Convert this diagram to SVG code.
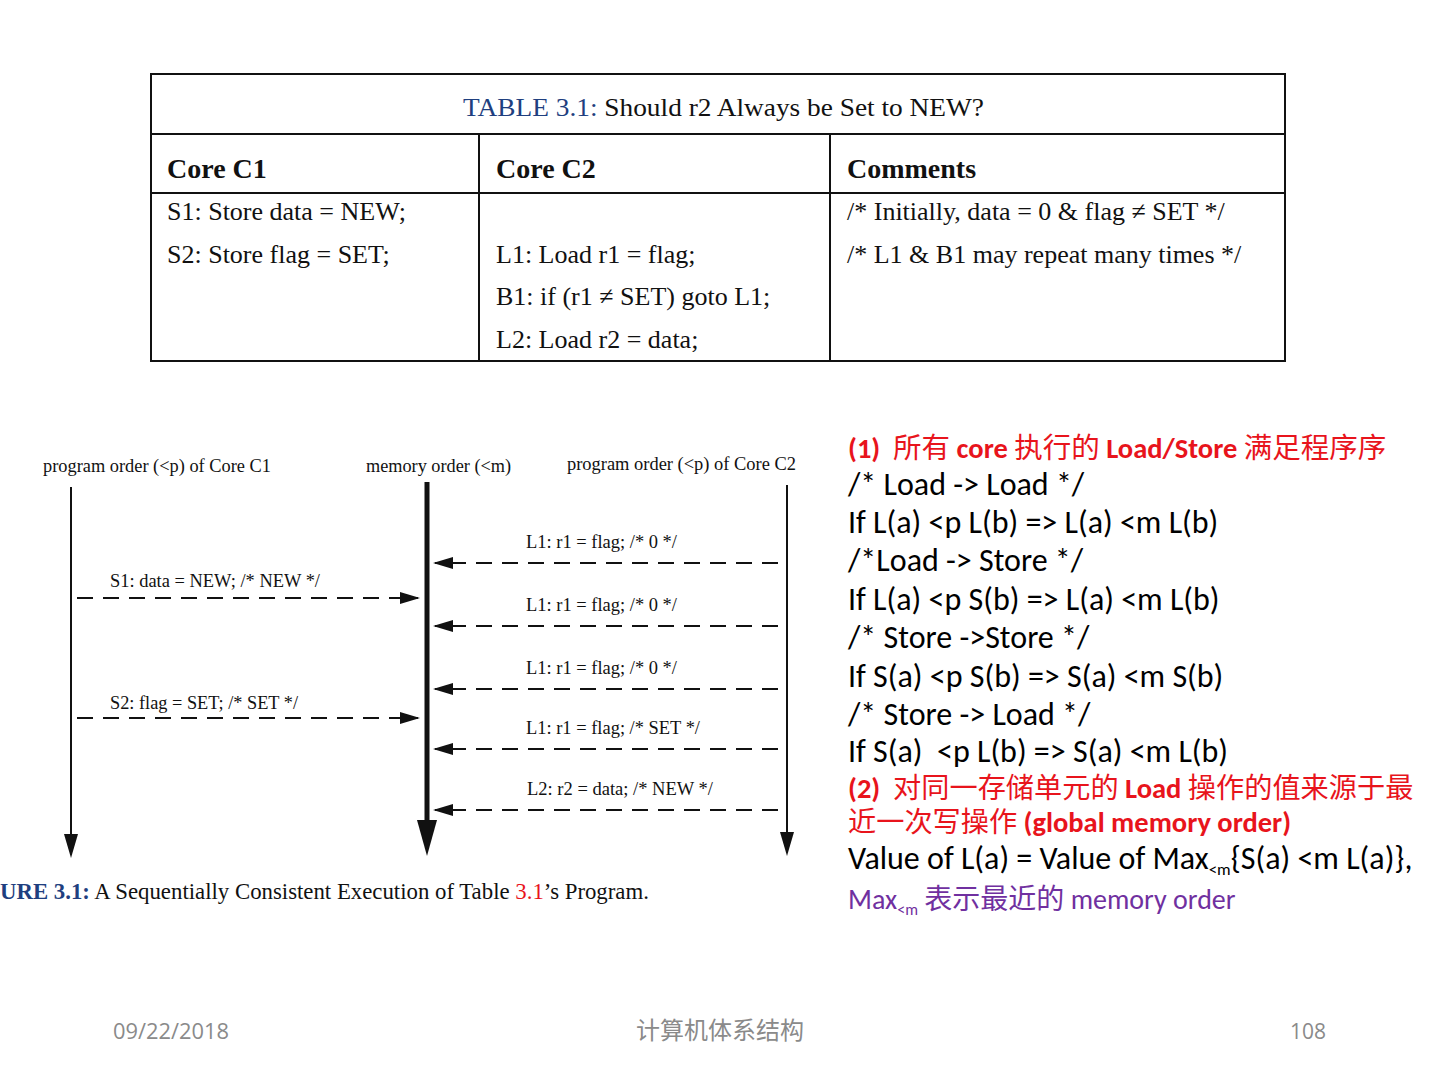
<svg xmlns="http://www.w3.org/2000/svg" width="1440" height="1080" viewBox="0 0 1440 1080">
<style>
.serif{font-family:"Liberation Serif","Times New Roman",serif;fill:#111}
.tbl{font-size:26px}
.hdr{font-size:28px;font-weight:bold}
.lbl{font-size:18px}
.sans{font-family:Carlito,"Open Sans","Noto Sans","Noto Sans CJK SC",sans-serif;font-size:32px;fill:#000}
.cjk{font-family:"Noto Sans CJK SC",sans-serif}
.red{fill:#e8141c;font-size:28.5px}
.pur{fill:#7030a0;font-size:28px}
.foot{font-family:"Open Sans","Noto Sans CJK SC",sans-serif;font-size:21px;fill:#8a8a8a}
.dash{stroke:#111;stroke-width:2;stroke-dasharray:16 10;fill:none}
</style>
<defs>
<marker id="ah" markerWidth="20" markerHeight="12" refX="18" refY="6" orient="auto" markerUnits="userSpaceOnUse">
<path d="M0,0 L20,6 L0,12 Z" fill="#111"/>
</marker>
</defs>
<rect width="1440" height="1080" fill="#fff"/>
<g id="table">
<rect x="151" y="74" width="1134" height="287" fill="none" stroke="#111" stroke-width="2"/>
<line x1="151" y1="134" x2="1285" y2="134" stroke="#111" stroke-width="2"/>
<line x1="151" y1="193" x2="1285" y2="193" stroke="#111" stroke-width="2"/>
<line x1="479" y1="134" x2="479" y2="361" stroke="#111" stroke-width="2"/>
<line x1="830" y1="134" x2="830" y2="361" stroke="#111" stroke-width="2"/>
<text x="463" y="116" class="serif" font-size="26" textLength="521" lengthAdjust="spacingAndGlyphs"><tspan fill="#1f3f7f">TABLE 3.1:</tspan> Should r2 Always be Set to NEW?</text>
<text x="167" y="178" class="serif hdr">Core C1</text>
<text x="496" y="178" class="serif hdr">Core C2</text>
<text x="847" y="178" class="serif hdr">Comments</text>
<text x="167" y="220" class="serif tbl">S1: Store data = NEW;</text>
<text x="167" y="263" class="serif tbl">S2: Store flag = SET;</text>
<text x="496" y="263" class="serif tbl">L1: Load r1 = flag;</text>
<text x="496" y="305" class="serif tbl">B1: if (r1 ≠ SET) goto L1;</text>
<text x="496" y="348" class="serif tbl">L2: Load r2 = data;</text>
<text x="847" y="220" class="serif tbl">/* Initially, data = 0 &amp; flag ≠ SET */</text>
<text x="847" y="263" class="serif tbl">/* L1 &amp; B1 may repeat many times */</text>
</g>
<g id="timelines">
<text x="43" y="472" class="serif lbl" textLength="228" lengthAdjust="spacingAndGlyphs">program order (&lt;p) of Core C1</text>
<text x="366" y="472" class="serif lbl" textLength="145" lengthAdjust="spacingAndGlyphs">memory order (&lt;m)</text>
<text x="567" y="470" class="serif lbl" textLength="229" lengthAdjust="spacingAndGlyphs">program order (&lt;p) of Core C2</text>
<line x1="71" y1="487" x2="71" y2="836" stroke="#111" stroke-width="2"/>
<path d="M64,834 L78,834 L71,858 Z" fill="#111"/>
<line x1="427" y1="482" x2="427" y2="822" stroke="#111" stroke-width="5"/>
<path d="M417,820 L437,820 L427,856 Z" fill="#111"/>
<line x1="787" y1="485" x2="787" y2="834" stroke="#111" stroke-width="2"/>
<path d="M780,832 L794,832 L787,856 Z" fill="#111"/>
</g>
<g id="connectors">
<line x1="77" y1="598" x2="418" y2="598" class="dash" marker-end="url(#ah)"/>
<line x1="77" y1="718" x2="418" y2="718" class="dash" marker-end="url(#ah)"/>
<line x1="778" y1="563" x2="435" y2="563" class="dash" marker-end="url(#ah)"/>
<line x1="778" y1="626" x2="435" y2="626" class="dash" marker-end="url(#ah)"/>
<line x1="778" y1="689" x2="435" y2="689" class="dash" marker-end="url(#ah)"/>
<line x1="778" y1="749" x2="435" y2="749" class="dash" marker-end="url(#ah)"/>
<line x1="778" y1="810" x2="435" y2="810" class="dash" marker-end="url(#ah)"/>
<text x="110" y="587" class="serif lbl" textLength="210" lengthAdjust="spacingAndGlyphs">S1: data = NEW; /* NEW */</text>
<text x="110" y="709" class="serif lbl" textLength="188" lengthAdjust="spacingAndGlyphs">S2: flag = SET; /* SET */</text>
<text x="526" y="548" class="serif lbl" textLength="151" lengthAdjust="spacingAndGlyphs">L1: r1 = flag; /* 0 */</text>
<text x="526" y="611" class="serif lbl" textLength="151" lengthAdjust="spacingAndGlyphs">L1: r1 = flag; /* 0 */</text>
<text x="526" y="674" class="serif lbl" textLength="151" lengthAdjust="spacingAndGlyphs">L1: r1 = flag; /* 0 */</text>
<text x="526" y="734" class="serif lbl" textLength="174" lengthAdjust="spacingAndGlyphs">L1: r1 = flag; /* SET */</text>
<text x="527" y="795" class="serif lbl" textLength="186" lengthAdjust="spacingAndGlyphs">L2: r2 = data; /* NEW */</text>
</g>
<text x="0" y="899" class="serif" font-size="22.8"><tspan fill="#1f3f7f" font-weight="bold">URE 3.1:</tspan> A Sequentially Consistent Execution of Table <tspan fill="#e8141c">3.1</tspan>’s Program.</text>
<g id="notes">
<text x="848" y="458" class="sans red" xml:space="preserve"><tspan font-weight="bold">(1)</tspan>  <tspan class="cjk" font-size="28.5">所有</tspan> <tspan font-weight="bold">core</tspan> <tspan class="cjk" font-size="28.5">执行的</tspan> <tspan font-weight="bold">Load/Store</tspan> <tspan class="cjk" font-size="28.5">满足程序序</tspan></text>
<text x="848" y="495" class="sans">/* Load -&gt; Load */</text>
<text x="848" y="533" class="sans">If L(a) &lt;p L(b) =&gt; L(a) &lt;m L(b)</text>
<text x="848" y="571" class="sans">/*Load -&gt; Store */</text>
<text x="848" y="610" class="sans">If L(a) &lt;p S(b) =&gt; L(a) &lt;m L(b)</text>
<text x="848" y="648" class="sans">/* Store -&gt;Store */</text>
<text x="848" y="687" class="sans">If S(a) &lt;p S(b) =&gt; S(a) &lt;m S(b)</text>
<text x="848" y="725" class="sans">/* Store -&gt; Load */</text>
<text x="848" y="762" class="sans" xml:space="preserve">If S(a)  &lt;p L(b) =&gt; S(a) &lt;m L(b)</text>
<text x="848" y="798" class="sans red" xml:space="preserve"><tspan font-weight="bold">(2)</tspan>  <tspan class="cjk" font-size="28.2">对同一存储单元的</tspan> <tspan font-weight="bold">Load</tspan> <tspan class="cjk" font-size="28.2">操作的值来源于最</tspan></text>
<text x="848" y="832" class="sans red"><tspan class="cjk" font-size="28.2">近一次写操作</tspan> <tspan font-weight="bold">(global memory order)</tspan></text>
<text x="848" y="869" class="sans">Value of L(a) = Value of Max<tspan font-size="17" dy="6">&lt;m</tspan><tspan dy="-6">{S(a) &lt;m L(a)},</tspan></text>
<text x="848" y="909" class="sans pur">Max<tspan font-size="16" dy="6">&lt;m</tspan><tspan dy="-6"> </tspan><tspan class="cjk">表示最近的</tspan> memory order</text>
</g>
<g id="footer">
<text x="113" y="1039" class="foot" textLength="116" lengthAdjust="spacingAndGlyphs">09/22/2018</text>
<text x="720" y="1039" class="foot cjk" style="font-size:24px" text-anchor="middle">计算机体系结构</text>
<text x="1326" y="1039" class="foot" text-anchor="end">108</text>
</g>
</svg>
